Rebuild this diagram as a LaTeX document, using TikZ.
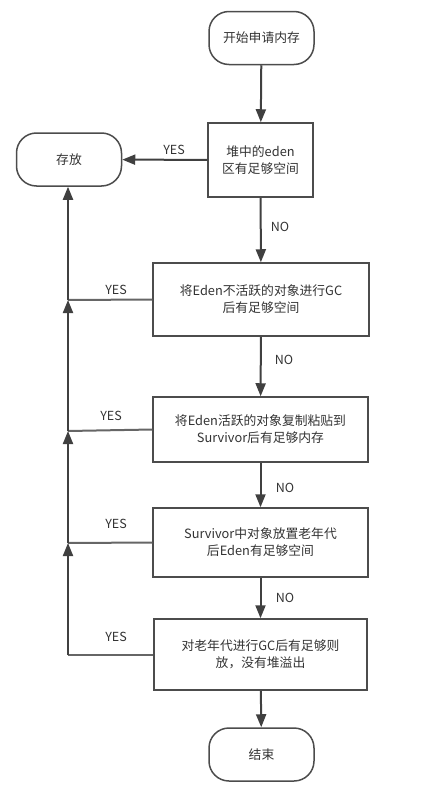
\documentclass[tikz,border=0pt]{standalone}
\usepackage{fontspec}
\setmainfont{Noto Sans CJK SC}
\usetikzlibrary{arrows.meta}
\begin{document}
\begin{tikzpicture}[x=1pt,y=-1pt,
  every node/.style={font=\fontsize{12.8}{17}\selectfont, text=black!80},
  term/.style={draw=black!70, line width=1.5pt, rounded corners=20pt, minimum width=105pt, minimum height=53pt, align=center, inner sep=0pt},
  proc/.style={draw=black!70, line width=1.5pt, align=center, inner sep=0pt},
  conn/.style={draw=black!75, line width=2pt, -{Triangle[length=13pt,width=10pt]}},
  plain/.style={draw=black!60, line width=2pt},
  lbl/.style={font=\fontsize{12.5}{14}\selectfont, text=black!80}]
\useasboundingbox (0,0) rectangle (422,795);
\node[term] (start) at (261.5,38) {开始申请内存};
\node[proc, minimum width=105pt, minimum height=74pt] (b1) at (260.5,160) {堆中的eden\\区有足够空间};
\node[term] (store) at (69,159.5) {存放};
\node[proc, minimum width=216pt, minimum height=73pt] (b2) at (261,299.5) {将Eden不活跃的对象进行GC\\后有足够空间};
\node[proc, minimum width=215pt, minimum height=65pt] (b3) at (260.5,429.5) {将Eden活跃的对象复制粘贴到\\Survivor后有足够内存};
\node[proc, minimum width=215pt, minimum height=69pt] (b4) at (260.5,542.5) {Survivor中对象放置老年代\\后Eden有足够空间};
\node[proc, minimum width=213pt, minimum height=71pt] (b5) at (260.5,654.5) {对老年代进行GC后有足够则\\放，没有堆溢出};
\node[term] (end) at (261.5,754.5) {结束};

\coordinate (j2) at (68,300);
\coordinate (j3) at (68,431);
\coordinate (j4) at (68,543);
\coordinate (j5) at (68,655);

\draw[conn] (start) -- (b1);
\draw[conn] (b1) -- (b2);
\draw[conn] (b2) -- (b3);
\draw[conn] (b3) -- (b4);
\draw[conn] (b4) -- (b5);
\draw[conn] (b5) -- (end);
\draw[conn] (b1) -- (store);

\draw[plain] (b2.west) -- (j2);
\draw[plain] (b3.west) -- (j3);
\draw[plain] (b4.west) -- (j4);
\draw[plain] (b5.west |- j5) -- (j5);
\draw[conn] (j5) -- (j4);
\draw[conn] (j4) -- (j3);
\draw[conn] (j3) -- (j2);
\draw[conn] (j2) -- (store.south -| j2);

\node[lbl] (y1) at (174,150) {YES};
\node[lbl] (y2) at (116,290) {YES};
\node[lbl] (y3) at (111,416) {YES};
\node[lbl] (y4) at (116,524) {YES};
\node[lbl] (y5) at (116,637) {YES};
\node[lbl] (n1) at (280,227) {NO};
\node[lbl] (n2) at (284,360) {NO};
\node[lbl] (n3) at (285,488) {NO};
\node[lbl] (n4) at (285,598) {NO};
\end{tikzpicture}
\end{document}
